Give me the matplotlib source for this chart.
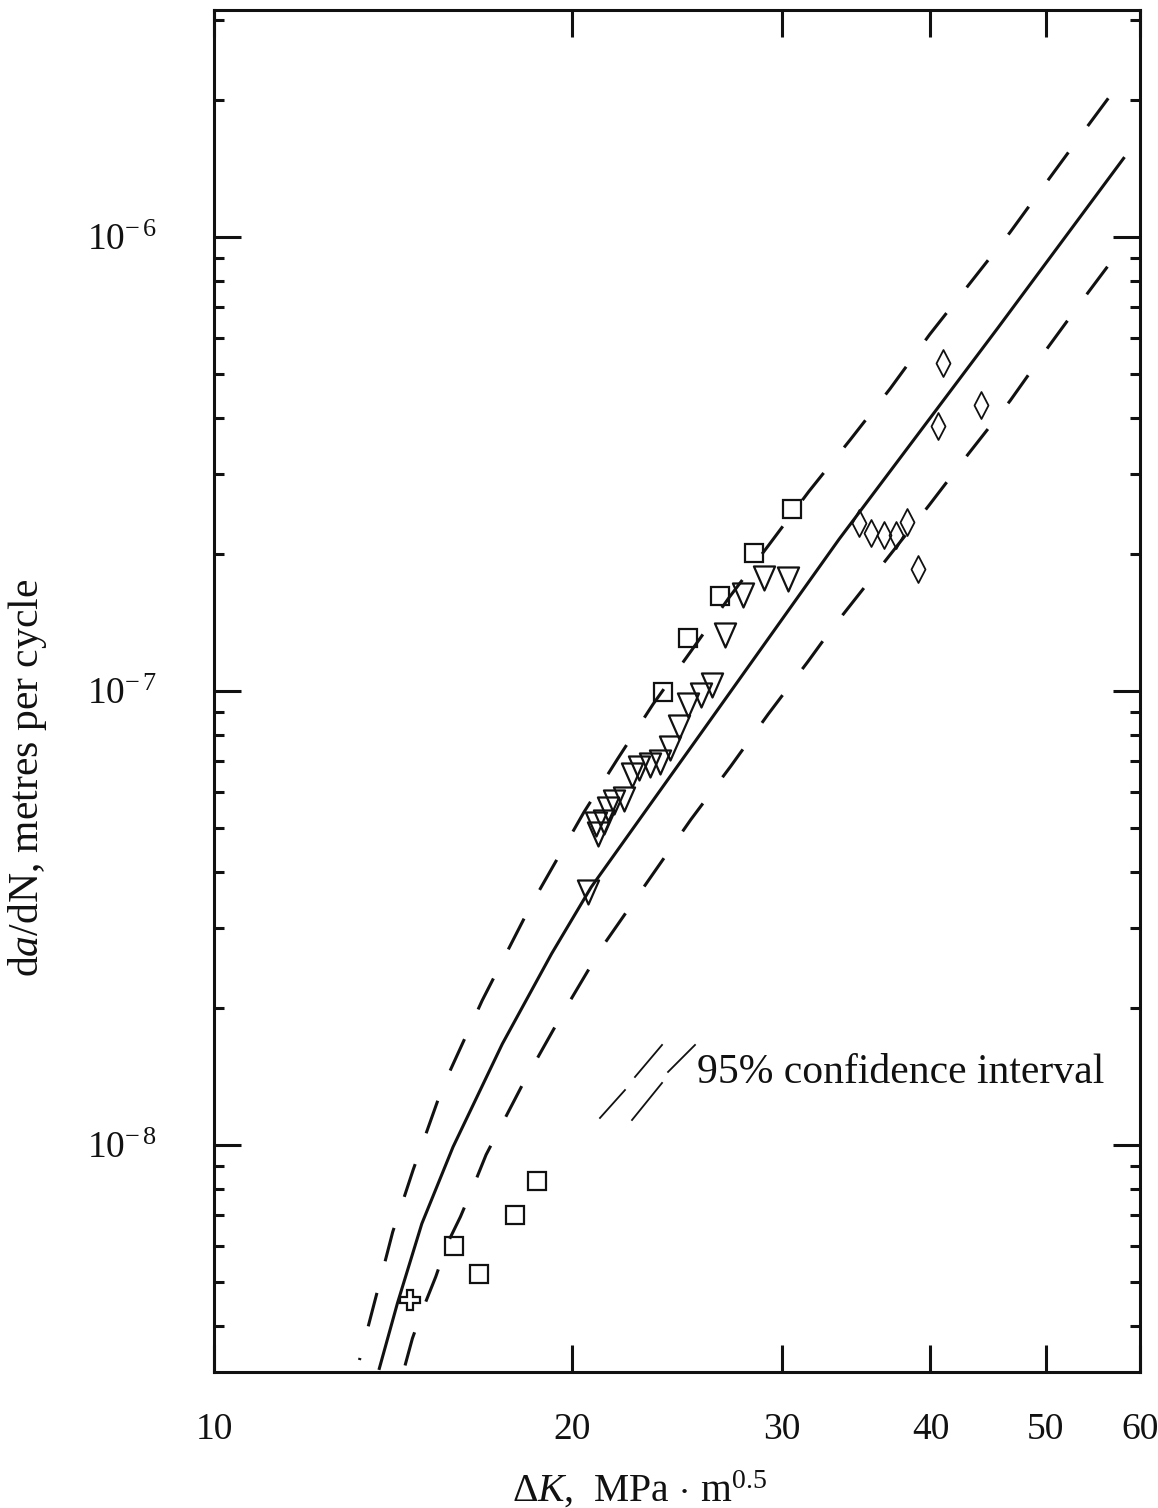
import numpy as np
import matplotlib
matplotlib.use("Agg")
import matplotlib.pyplot as plt
from matplotlib.path import Path
from matplotlib.ticker import FixedLocator, LogLocator, NullLocator, NullFormatter

plt.rcParams["font.family"] = ["Liberation Serif", "DejaVu Serif"]
plt.rcParams["mathtext.fontset"] = "custom"
plt.rcParams["mathtext.rm"] = "Liberation Serif"
plt.rcParams["mathtext.it"] = "Liberation Serif:italic"
plt.rcParams["mathtext.bf"] = "Liberation Serif:bold"

# mean crack growth curve
dk_mean = [13.77, 14.26, 14.95, 15.88, 17.47, 19.22, 20.75, 25.63, 33.52, 45.56, 58.12]
rate_mean = [3.22e-9, 4.48e-9, 6.71e-9, 9.9e-9, 1.67e-8, 2.64e-8, 3.70e-8, 8.04e-8,
             2.16e-7, 6.30e-7, 1.49e-6]

# 95% confidence band
dk_upper = [13.25, 13.70, 14.13, 14.70, 15.56, 16.80, 18.48, 20.46, 21.83, 23.39, 25.2,
            27.11, 29.27, 31.61, 34.26, 36.99, 39.94, 46.66, 50.28, 54.21, 56.42]
rate_upper = [3.36e-9, 4.70e-9, 6.43e-9, 8.81e-9, 1.34e-8, 2.08e-8, 3.39e-8, 5.41e-8,
              7.08e-8, 9.36e-8, 1.23e-7, 1.61e-7, 2.10e-7, 2.75e-7, 3.58e-7, 4.63e-7,
              6.10e-7, 1.024e-6, 1.34e-6, 1.754e-6, 2.02e-6]
dk_lower = [14.45, 14.68, 15.01, 15.36, 15.69, 16.11, 16.51, 16.93, 18.17, 19.61, 21.17,
            23.39, 25.16, 27.17, 29.22, 31.55, 33.04, 39.87, 43.05, 46.67, 50.2, 54.11, 56.33]
rate_lower = [3.22e-9, 3.75e-9, 4.41e-9, 5.13e-9, 6.03e-9, 6.95e-9, 8.09e-9, 9.52e-9,
              1.36e-8, 1.94e-8, 2.72e-8, 3.96e-8, 5.21e-8, 6.82e-8, 8.89e-8, 1.16e-7,
              1.37e-7, 2.56e-7, 3.33e-7, 4.36e-7, 5.71e-7, 7.47e-7, 8.6e-7]

# test results
dk_sq = [30.59, 28.43, 26.64, 25.0, 23.84, 18.69, 17.92, 15.90, 16.69]
rate_sq = [2.52e-7, 2.01e-7, 1.62e-7, 1.31e-7, 9.94e-8, 8.32e-9, 7.0e-9, 6.0e-9, 5.19e-9]

dk_tri = [30.34, 29.0, 27.82, 26.9, 26.23, 25.64, 25.04, 24.57, 24.15, 23.72, 23.24,
          22.75, 22.47, 22.11, 21.69, 21.42, 21.28, 20.94, 21.01, 20.62]
rate_tri = [1.762e-7, 1.77e-7, 1.625e-7, 1.33e-7, 1.03e-7, 9.8e-8, 9.3e-8, 8.34e-8,
            7.47e-8, 6.98e-8, 6.86e-8, 6.75e-8, 6.52e-8, 5.79e-8, 5.69e-8, 5.49e-8,
            5.14e-8, 5.1e-8, 4.85e-8, 3.61e-8]

dk_dia = [40.97, 44.1, 40.6, 34.83, 35.63, 36.56, 37.45, 38.24, 39.08]
rate_dia = [5.28e-7, 4.27e-7, 3.83e-7, 2.34e-7, 2.23e-7, 2.21e-7, 2.21e-7, 2.35e-7, 1.86e-7]

dk_plus = [14.61]
rate_plus = [4.56e-9]

x_ticks = [10, 20, 30, 40, 50, 60]
y_ticks = [1e-8, 1e-7, 1e-6]
y_labels = [r"$10^{-\,8}$", r"$10^{-\,7}$", r"$10^{-\,6}$"]

ink = "#111111"
lw = 2.2
dash = (11.3, 10.7)

thin_diamond = Path([(0, 1), (0.52, 0), (0, -1), (-0.52, 0), (0, 1)], closed=True)
down_tri = Path([(-0.44, 0.5), (0.44, 0.5), (0, -0.5), (-0.44, 0.5)], closed=True)

fig = plt.figure(figsize=(11.58, 15.08), dpi=100)
ax = fig.add_axes([0.1848, 0.0902, 0.7997, 0.9032])
ax.set_xscale("log")
ax.set_yscale("log")

ax.plot(dk_mean, rate_mean, color=ink, lw=lw, zorder=2)
# band lines drawn from the top end down so the dashes start clean at the top
ax.plot(dk_upper[::-1], rate_upper[::-1], color=ink, lw=lw, dashes=dash, zorder=2)
ax.plot(dk_lower[::-1], rate_lower[::-1], color=ink, lw=lw, dashes=dash, zorder=2)

ax.plot(dk_sq, rate_sq, ls="none", marker="s", ms=13.5, mfc="none", mec=ink, mew=1.6, zorder=3)
ax.plot(dk_tri, rate_tri, ls="none", marker=down_tri, ms=17.3, mfc="none", mec=ink, mew=1.6, zorder=3)
ax.plot(dk_dia, rate_dia, ls="none", marker=thin_diamond, ms=19.4, mfc="none", mec=ink, mew=1.3, zorder=3)
ax.plot(dk_plus, rate_plus, ls="none", marker="P", ms=13.7, mfc="none", mec=ink, mew=1.6, zorder=3)

# key for the dashed band
for x0, y0, x1, y1 in [(0.4168, 0.1865, 0.4438, 0.2070), (0.4546, 0.2166, 0.4838, 0.2401),
                       (0.4514, 0.1850, 0.4838, 0.2122), (0.4903, 0.2203, 0.5194, 0.2401)]:
    ax.plot([x0, x1], [y0, y1], transform=ax.transAxes, color=ink, lw=1.3)
ax.text(0.5216, 0.2122, "95% confidence interval", transform=ax.transAxes,
        fontsize=30, va="baseline", ha="left", color=ink)

ax.set_xlim(10, 60)
ax.set_ylim(10 ** -8.5, 10 ** -5.5)

ax.xaxis.set_major_locator(FixedLocator(x_ticks))
ax.xaxis.set_minor_locator(NullLocator())
ax.set_xticklabels([str(v) for v in x_ticks])
ax.set_yticks(y_ticks)
ax.set_yticklabels(y_labels)
ax.yaxis.set_minor_locator(LogLocator(base=10, subs=np.arange(2, 10)))
ax.yaxis.set_minor_formatter(NullFormatter())

ax.tick_params(which="both", direction="in", top=True, right=True, color=ink,
               width=lw, labelcolor=ink, labelsize=27)
ax.tick_params(which="major", length=19.5)
ax.tick_params(which="minor", length=7.2)
ax.tick_params(axis="x", pad=29)
ax.tick_params(axis="y", pad=41)
for sp in ax.spines.values():
    sp.set_linewidth(lw)
    sp.set_color(ink)

fig.text(0.024, 0.484, r"d$a$/dN, metres per cycle", rotation=90, ha="center", va="center",
         fontsize=30, color=ink)
fig.text(0.5527, 0.004, r"$\Delta K$,  MPa$\,\cdot\,$m$^{0.5}$", ha="center", va="baseline",
         fontsize=28.5, color=ink)

fig.savefig("out.png", dpi=100)
